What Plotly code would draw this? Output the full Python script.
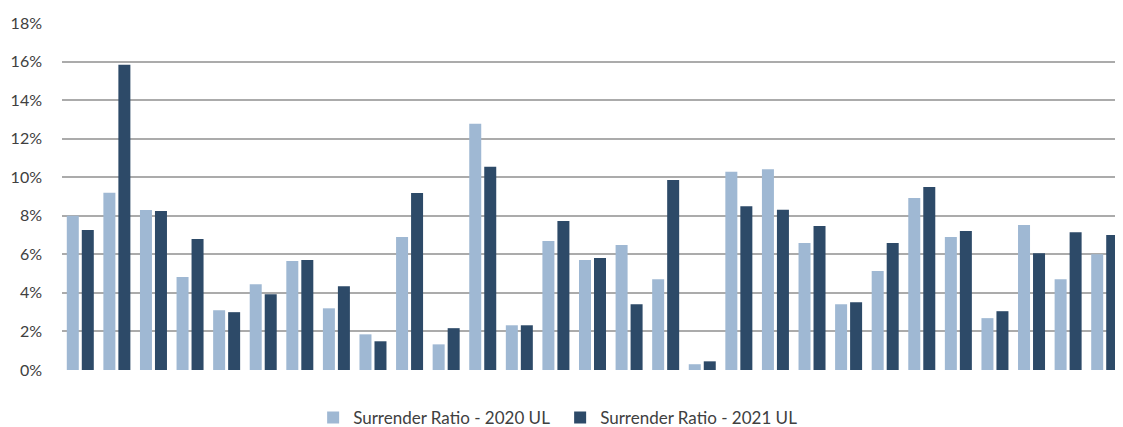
import plotly.graph_objects as go

categories = [str(i) for i in range(1, 30)]
ratio_2020 = [8.0, 9.2, 8.3, 4.82, 3.1, 4.45, 5.65, 3.2, 1.85, 6.9, 1.33, 12.77, 2.32, 6.69, 5.7,
              6.48, 4.71, 0.3, 10.28, 10.42, 6.59, 3.41, 5.13, 8.92, 6.9, 2.69, 7.52, 4.71, 6.01]
ratio_2021 = [7.26, 15.84, 8.25, 6.79, 3.0, 3.93, 5.7, 4.34, 1.49, 9.18, 2.17, 10.54, 2.32, 7.73, 5.81,
              3.41, 9.86, 0.45, 8.5, 8.31, 7.47, 3.52, 6.59, 9.49, 7.21, 3.05, 6.06, 7.15, 7.0]
y_ticks = [0, 2, 4, 6, 8, 10, 12, 14, 16, 18]
y_labels = [f"{v}%" for v in y_ticks]

fig = go.Figure()
fig.add_trace(go.Bar(x=categories, y=ratio_2020, name="Surrender Ratio - 2020 UL",
                     marker=dict(color="#9FB8D3", line=dict(width=0))))
fig.add_trace(go.Bar(x=categories, y=ratio_2021, name="Surrender Ratio - 2021 UL",
                     marker=dict(color="#2D4A68", line=dict(width=0))))

fig.update_layout(
    width=1115, height=419,
    margin=dict(l=54, r=0, t=15, b=57, autoexpand=False),
    paper_bgcolor="white", plot_bgcolor="white",
    barmode="group", bargap=0.18, bargroupgap=0.2,
    font=dict(family="Lato, Open Sans, sans-serif", color="#404040"),
    showlegend=True,
    legend=dict(orientation="h", x=0.4695, xanchor="center", y=-0.138, yanchor="middle",
                font=dict(size=17, color="#404040"), itemwidth=30, traceorder="normal",
                entrywidth=202, entrywidthmode="pixels"),
)
fig.update_xaxes(showticklabels=False, showgrid=False, zeroline=False, showline=False, ticks="")
fig.update_yaxes(range=[0, 18], tickvals=y_ticks, ticktext=y_labels, showgrid=True,
                 gridcolor="#ABABAB", gridwidth=1.5, zeroline=False, showline=False,
                 tickfont=dict(size=16, color="#404040"), ticks="", ticklabelstandoff=19)

fig.write_html("out.html")
